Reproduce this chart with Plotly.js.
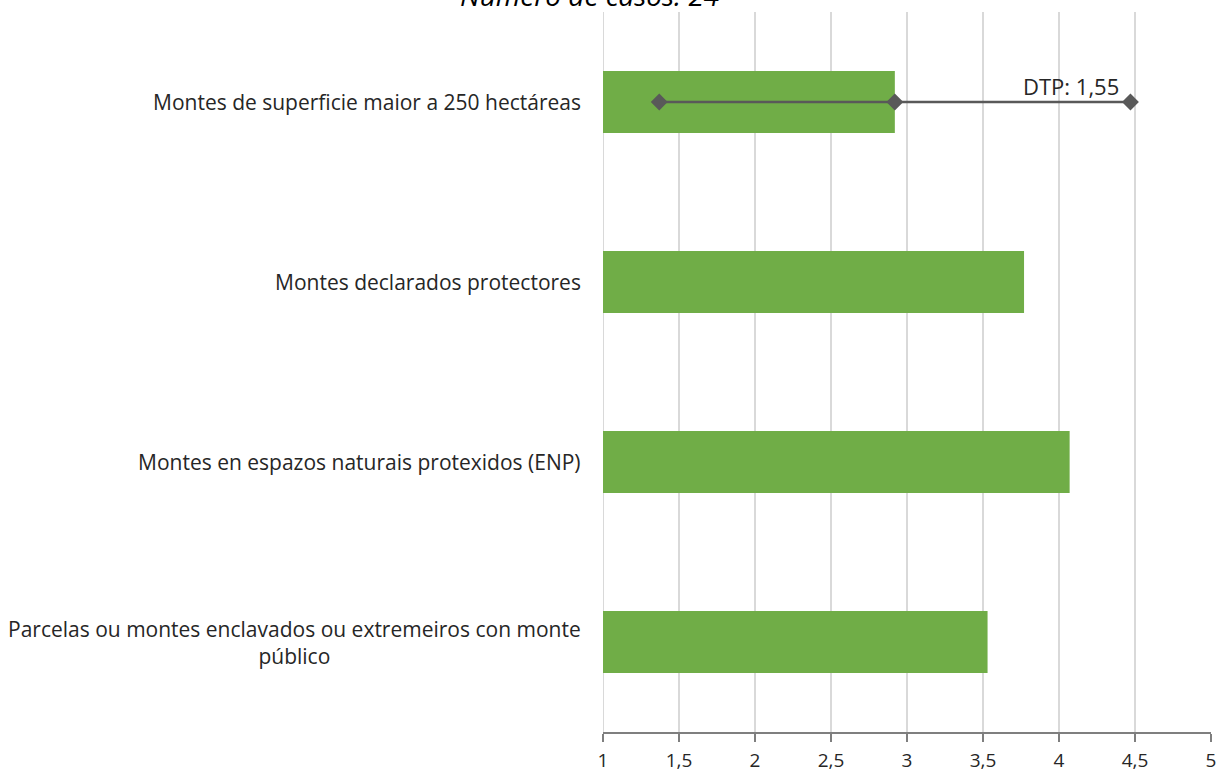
<!DOCTYPE html>
<html>
<head>
<meta charset="utf-8">
<script src="https://cdn.plot.ly/plotly-3.0.1.min.js"></script>
<style>html,body{margin:0;padding:0;background:#fff;}#chart{width:1228px;height:772px;}</style>
</head>
<body>
<div id="chart"></div>
<script>
const categories = [
  "Montes de superficie maior a 250 hectáreas",
  "Montes declarados protectores",
  "Montes en espazos naturais protexidos (ENP)",
  "Parcelas ou montes enclavados ou extremeiros con monte<br>público"
];
const means = [2.92, 3.77, 4.07, 3.53];
const sdCategory = categories[0];
const sdMean = 2.92;
const sdValue = 1.55;
const sdLabel = "DTP: 1,55";
const titleText = "Número de casos: 24";
const tickVals = [1, 1.5, 2, 2.5, 3, 3.5, 4, 4.5, 5];

const FONT = "'Open Sans', sans-serif";
const labelFont = {family: FONT, size: 21, color: "#262626"};

const traces = [
  {
    type: "bar",
    orientation: "h",
    y: categories,
    x: means,
    base: 0,
    marker: {color: "#70AD47"},
    hoverinfo: "x+y"
  },
  {
    type: "scatter",
    mode: "lines+markers",
    y: [sdCategory, sdCategory, sdCategory],
    x: [sdMean - sdValue, sdMean, sdMean + sdValue],
    line: {color: "#595959", width: 2.5},
    marker: {symbol: "diamond", size: 13, color: "#595959"},
    hoverinfo: "x"
  }
];

const annotations = categories.map(c => ({
  xref: "paper", yref: "y", x: 0, y: c,
  xanchor: "right", yanchor: "middle", xshift: -20,
  text: c, showarrow: false, align: "center", font: labelFont
}));
annotations.push({
  xref: "x", yref: "y", x: sdMean + sdValue, y: sdCategory,
  xanchor: "right", yanchor: "bottom", xshift: -9, yshift: -1,
  text: sdLabel, showarrow: false, font: {family: FONT, size: 22, color: "#262626"}
});
annotations.push({
  xref: "paper", yref: "paper", x: -0.022, y: 1, xanchor: "center", yanchor: "bottom",
  yshift: -4, text: "<i>" + titleText + "</i>", showarrow: false,
  font: {family: FONT, size: 28, color: "#000"}
});

const layout = {
  width: 1228, height: 772,
  margin: {l: 603, r: 17, t: 12, b: 40},
  paper_bgcolor: "#fff", plot_bgcolor: "#fff",
  separators: ",.",
  showlegend: false,
  bargap: 0.655,
  shapes: [{
    type: "line", xref: "x", yref: "paper", x0: 1, x1: 1, y0: 0, y1: 1,
    line: {color: "#D9D9D9", width: 2}, layer: "below"
  }],
  xaxis: {
    range: [1, 5], tickvals: tickVals, showgrid: true, gridcolor: "#D9D9D9", gridwidth: 2,
    zeroline: false, showline: true, linecolor: "#7F7F7F", linewidth: 1.5,
    ticks: "outside", ticklen: 8, tickcolor: "#7F7F7F", tickwidth: 1.5,
    ticklabelstandoff: 3,
    tickfont: {family: FONT, size: 19, color: "#262626"},
    fixedrange: true
  },
  yaxis: {
    type: "category", categoryarray: categories, categoryorder: "array",
    range: [3.5, -0.5], showticklabels: false, showgrid: false, zeroline: false,
    showline: false, ticks: "", fixedrange: true
  },
  annotations: annotations
};

Plotly.newPlot("chart", traces, layout, {displayModeBar: false, staticPlot: true});
</script>
</body>
</html>
